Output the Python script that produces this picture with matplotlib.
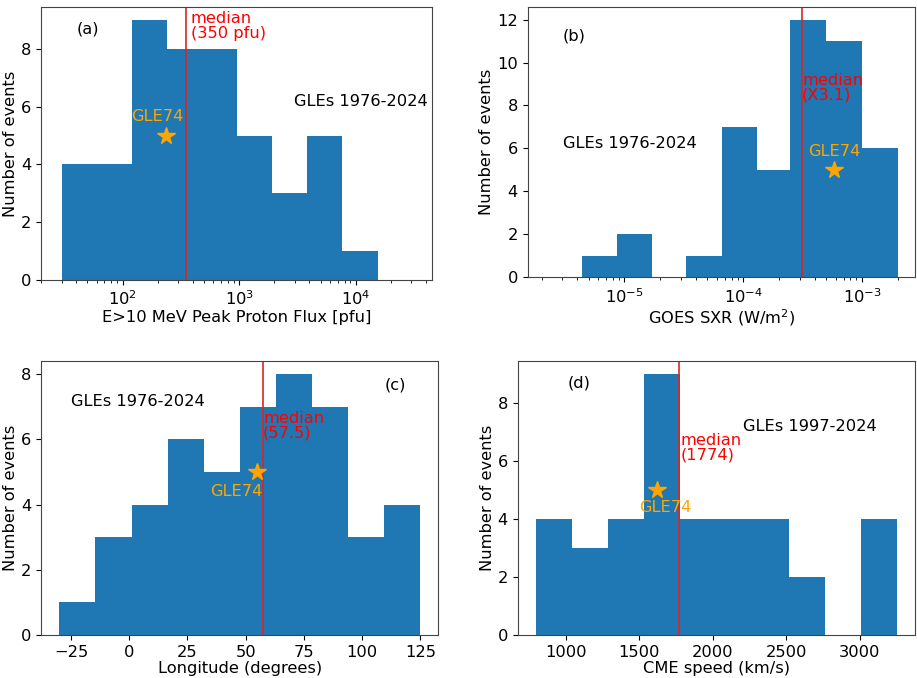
import numpy as np
import matplotlib
matplotlib.use("Agg")
import matplotlib.pyplot as plt

# ========= histogram data (counts per bin) =========
# (a) E>10 MeV peak proton flux [pfu]
flux_edges = [30, 60, 120, 240, 480, 960, 1920, 3840, 7680, 15360]
flux_counts = [4, 4, 9, 8, 8, 5, 3, 5, 1]
flux_median = 350
flux_gle74 = 235

# (b) GOES SXR peak [W/m^2]
sxr_edges = [4.4e-6, 8.6e-6, 1.7e-5, 3.3e-5, 6.6e-5, 1.3e-4, 2.5e-4, 5.0e-4, 1.0e-3, 2.0e-3]
sxr_counts = [1, 2, 0, 1, 7, 5, 12, 11, 6]
sxr_median = 3.1e-4
sxr_gle74 = 5.8e-4

# (c) flare longitude [deg]
lon_edges = [-30, -14.5, 1, 16.5, 32, 47.5, 63, 78.5, 94, 109.5, 125]
lon_counts = [1, 3, 4, 6, 5, 7, 8, 7, 3, 4]
lon_median = 57.5
lon_gle74 = 55

# (d) CME speed [km/s]
cme_edges = [795, 1041, 1287, 1533, 1779, 2025, 2271, 2517, 2763, 3009, 3255]
cme_counts = [4, 3, 4, 9, 4, 4, 4, 2, 0, 4]
cme_median = 1774
cme_gle74 = 1618

FS = 11.7
plt.rcParams["font.size"] = FS
plt.rcParams["axes.edgecolor"] = "#444444"

fig = plt.figure(figsize=(9.17, 6.78), dpi=100)
W, H = 917.0, 678.0


def add_ax(left, top, right, bottom):
    return fig.add_axes([left / W, 1 - bottom / H, (right - left) / W, (bottom - top) / H])


def draw_hist(ax, edges, counts):
    edges = np.asarray(edges, dtype=float)
    ax.hist(edges[:-1], bins=edges, weights=counts, color="#1f77b4")
    ax.set_ylabel("Number of events", labelpad=2)


# ---- (a) ----
ax = add_ax(41, 7, 432, 280)
draw_hist(ax, flux_edges, flux_counts)
ax.set_xscale("log")
ax.set_xlim(20, 4.5e4)
ax.axvline(flux_median, color="#d62728", lw=1.2)
ax.plot(flux_gle74, 5, marker="*", color="orange", ms=13, ls="none")
ax.text(flux_gle74 * 0.85, 5.4, "GLE74", color="orange", ha="center", va="bottom")
ax.text(flux_median * 1.1, 9.3, "median\n(350 pfu)", color="red", va="top", linespacing=1.0)
ax.text(0.09, 0.92, "(a)", transform=ax.transAxes, va="center")
ax.text(0.99, 0.655, "GLEs 1976-2024", transform=ax.transAxes, ha="right", va="center")
ax.set_xlabel("E>10 MeV Peak Proton Flux [pfu]", labelpad=1)
ax.set_yticks([0, 2, 4, 6, 8])

# ---- (b) ----
ax = add_ax(527.7, 6.7, 915, 277.3)
draw_hist(ax, sxr_edges, sxr_counts)
ax.set_xscale("log")
ax.set_xlim(1.53e-6, 2.8e-3)
ax.axvline(sxr_median, color="#d62728", lw=1.2)
ax.plot(sxr_gle74, 5, marker="*", color="orange", ms=13, ls="none")
ax.text(sxr_gle74, 5.5, "GLE74", color="orange", ha="center", va="bottom")
ax.text(sxr_median * 1.01, 9.5, "median\n(X3.1)", color="red", va="top", linespacing=0.9)
ax.text(0.09, 0.89, "(b)", transform=ax.transAxes, va="center")
ax.text(0.09, 0.495, "GLEs 1976-2024", transform=ax.transAxes, va="center")
ax.set_xlabel("GOES SXR (W/m$^2$)", labelpad=1)
ax.set_yticks([0, 2, 4, 6, 8, 10, 12])

# ---- (c) ----
ax = add_ax(41.3, 361, 438.3, 635)
draw_hist(ax, lon_edges, lon_counts)
ax.axvline(lon_median, color="#d62728", lw=1.2)
ax.plot(lon_gle74, 5, marker="*", color="orange", ms=13, ls="none")
ax.text(46, 4.4, "GLE74", color="orange", ha="center", va="center")
ax.text(lon_median, 6.88, "median\n(57.5)", color="red", va="top", linespacing=1.0)
ax.text(0.865, 0.912, "(c)", transform=ax.transAxes, va="center")
ax.text(0.075, 0.854, "GLEs 1976-2024", transform=ax.transAxes, va="center")
ax.set_xlabel("Longitude (degrees)", labelpad=1)
ax.set_yticks([0, 2, 4, 6, 8])

# ---- (d) ----
ax = add_ax(517.7, 361, 915, 635)
draw_hist(ax, cme_edges, cme_counts)
ax.axvline(cme_median, color="#d62728", lw=1.2)
ax.plot(cme_gle74, 5, marker="*", color="orange", ms=13, ls="none")
ax.text(1678, 4.4, "GLE74", color="orange", ha="center", va="center")
ax.text(cme_median + 8, 6.95, "median\n(1774)", color="red", va="top", linespacing=0.9)
ax.text(0.125, 0.92, "(d)", transform=ax.transAxes, va="center")
ax.text(0.566, 0.76, "GLEs 1997-2024", transform=ax.transAxes, va="center")
ax.set_xlabel("CME speed (km/s)", labelpad=1)
ax.set_yticks([0, 2, 4, 6, 8])

fig.savefig("out.png", dpi=100)
